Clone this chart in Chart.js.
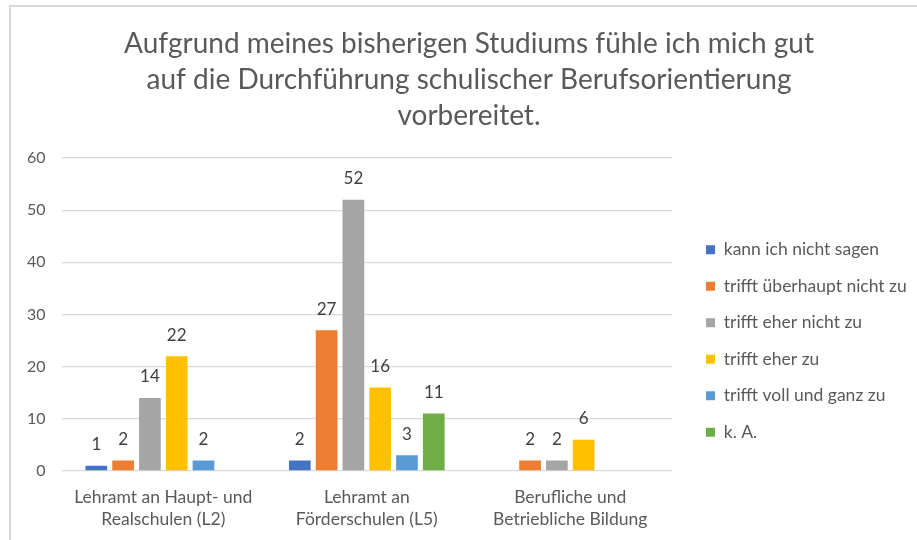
<!DOCTYPE html>
<html>
<head>
<meta charset="utf-8">
<script src="https://cdn.jsdelivr.net/npm/chart.js@4.4.0/dist/chart.umd.min.js"></script>
<style>
  html, body { margin: 0; padding: 0; background: #fff; overflow: hidden; }
  #frame {
    position: absolute; left: 9px; top: 5px;
    border-left: 2px solid #d9d9d9; border-top: 2px solid #d9d9d9;
  }
  #frame canvas { display: block; }
</style>
</head>
<body>
<div id="frame"><canvas id="chart" width="916" height="538"></canvas></div>
<script>
/* chart data */
const categories = [
  ['Lehramt an Haupt- und', 'Realschulen (L2)'],
  ['Lehramt an', 'Förderschulen (L5)'],
  ['Berufliche und', 'Betriebliche Bildung']
];
const seriesNames = [
  'kann ich nicht sagen',
  'trifft überhaupt nicht zu',
  'trifft eher nicht zu',
  'trifft eher zu',
  'trifft voll und ganz zu',
  'k. A.'
];
const kannNicht   = [1, 2, 0];
const garNicht    = [2, 27, 2];
const eherNicht   = [14, 52, 2];
const eherZu      = [22, 16, 6];
const vollZu      = [2, 3, 0];
const keineAngabe = [0, 11, 0];
const yTicks = [0, 10, 20, 30, 40, 50, 60];

const titleLines = [
  'Aufgrund meines bisherigen Studiums fühle ich mich gut',
  'auf die Durchführung schulischer Berufsorientierung',
  'vorbereitet.'
];

const COLORS = ['#4472C4', '#ED7D31', '#A5A5A5', '#FFC000', '#5B9BD5', '#70AD47'];
const TEXT = '#595959';
const FONT = "Lato, 'Open Sans', sans-serif";

// value labels above the bars (zeros are left out like in Excel)
const valueLabels = {
  id: 'valueLabels',
  afterDatasetsDraw(chart) {
    const ctx = chart.ctx;
    ctx.save();
    ctx.font = '17px ' + FONT;
    ctx.fillStyle = '#404040';
    ctx.textAlign = 'center';
    ctx.textBaseline = 'middle';
    chart.data.datasets.forEach((ds, i) => {
      chart.getDatasetMeta(i).data.forEach((bar, j) => {
        const v = ds.data[j];
        if (!v) return;
        ctx.fillText(String(v), bar.x, bar.y - 21);
      });
    });
    ctx.restore();
  }
};

// Excel keeps a wide legend column on the right; reserve that width,
// then place the legend items a bit further down like in the original
const LEGEND_W = 255;
const legendPlace = {
  id: 'legendPlace',
  beforeLayout(chart) {
    const lg = chart.legend;
    if (lg._fixedWidth) return;
    const fit = lg.fit.bind(lg);
    lg.fit = function () { fit(); this.width = LEGEND_W; };
    lg._fixedWidth = true;
  },
  afterLayout(chart) {
    const lg = chart.legend;
    const w = lg.width, h = lg.height;
    lg.left = chart.chartArea.right + 15; lg.right = lg.left + w;
    lg.top = 215; lg.bottom = lg.top + h;
  }
};

const datasets = [kannNicht, garNicht, eherNicht, eherZu, vollZu, keineAngabe].map((data, i) => ({
  label: seriesNames[i],
  data: data,
  backgroundColor: COLORS[i],
  categoryPercentage: 0.79,
  barPercentage: 0.81
}));

new Chart(document.getElementById('chart'), {
  type: 'bar',
  data: { labels: categories, datasets: datasets },
  plugins: [valueLabels, legendPlace],
  options: {
    responsive: false,
    animation: false,
    layout: { padding: 0 },
    plugins: {
      tooltip: { enabled: false },
      title: {
        display: true,
        text: titleLines,
        color: TEXT,
        font: { family: FONT, size: 28, weight: 'normal', lineHeight: 36 / 28 },
        padding: { top: 19, bottom: 24 }
      },
      legend: {
        position: 'right',
        align: 'start',
        labels: {
          color: TEXT,
          font: { family: FONT, size: 17.5 },
          boxWidth: 9,
          boxHeight: 9,
          padding: 19
        }
      }
    },
    scales: {
      x: {
        grid: { display: false, drawTicks: false },
        border: { display: false },
        ticks: {
          color: TEXT,
          padding: 15,
          font: { family: FONT, size: 17.5, lineHeight: 22 / 17.5 }
        }
      },
      y: {
        min: 0,
        max: 60,
        afterBuildTicks: axis => { axis.ticks = yTicks.map(v => ({ value: v })); },
        grid: { color: '#d9d9d9', lineWidth: 1.3, drawTicks: false },
        border: { display: false },
        ticks: {
          color: TEXT,
          padding: 16,
          font: { family: FONT, size: 16 }
        }
      }
    }
  }
});
</script>
</body>
</html>
